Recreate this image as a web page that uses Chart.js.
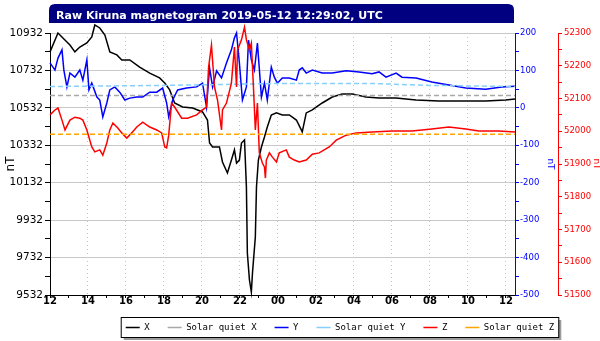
<!DOCTYPE html>
<html>
<head>
<meta charset="utf-8">
<script src="https://cdn.jsdelivr.net/npm/chart.js@4.4.1/dist/chart.umd.min.js"></script>
<style>
  html, body { margin: 0; padding: 0; background: #fff; }
  #wrap { width: 600px; height: 341px; }
</style>
</head>
<body>
<div id="wrap"><canvas id="magnetogram"></canvas></div>
<script>
// hours after 2019-05-12 12:00 UTC
const x_times = [0, 0.42, 0.68, 1.05, 1.31, 1.57, 1.94, 2.20, 2.36, 2.62, 2.89, 3.15, 3.52, 3.78, 4.20, 4.72, 5.25, 5.77, 6.04, 6.30, 6.56, 6.98, 7.51, 8.03, 8.29, 8.40, 8.56, 8.92, 9.08, 9.34, 9.55, 9.71, 9.82, 9.97, 10.08, 10.24, 10.34, 10.39, 10.50, 10.60, 10.66, 10.81, 10.87, 10.97, 11.13, 11.29, 11.44, 11.65, 11.92, 12.23, 12.60, 12.97, 13.23, 13.28, 13.49, 13.81, 14.33, 14.86, 15.38, 15.91, 16.64, 17.32, 18.22, 19.27, 20.47, 21.89, 22.94, 23.99, 24.48];
const x_values = [10831, 10932, 10905, 10868, 10831, 10857, 10879, 10911, 10975, 10959, 10921, 10831, 10815, 10788, 10788, 10750, 10718, 10692, 10665, 10628, 10558, 10537, 10531, 10510, 10467, 10344, 10323, 10323, 10243, 10184, 10253, 10307, 10237, 10253, 10344, 10360, 10109, 9756, 9612, 9548, 9650, 9842, 10109, 10253, 10323, 10376, 10430, 10494, 10505, 10494, 10494, 10467, 10414, 10403, 10505, 10521, 10558, 10590, 10606, 10606, 10590, 10585, 10585, 10574, 10569, 10569, 10569, 10574, 10579];

const y_times = [0, 0.26, 0.42, 0.63, 0.73, 0.89, 1.05, 1.31, 1.57, 1.73, 1.94, 2.05, 2.20, 2.47, 2.62, 2.78, 2.99, 3.15, 3.41, 3.67, 3.94, 4.20, 4.57, 4.88, 5.25, 5.62, 5.93, 6.14, 6.25, 6.46, 6.72, 7.19, 7.72, 8.03, 8.24, 8.40, 8.56, 8.77, 9.03, 9.29, 9.55, 9.71, 9.82, 9.97, 10.13, 10.34, 10.45, 10.60, 10.76, 10.92, 11.13, 11.29, 11.44, 11.65, 11.81, 11.97, 12.23, 12.60, 12.97, 13.12, 13.28, 13.49, 13.81, 14.33, 14.86, 15.59, 16.27, 16.96, 17.32, 17.69, 18.22, 18.53, 19.27, 20.10, 21.00, 21.89, 22.94, 23.78, 24.48];
const y_values = [120, 101, 133, 155, 101, 56, 93, 82, 101, 74, 128, 48, 66, 29, 21, -24, 13, 48, 56, 42, 21, 26, 29, 29, 42, 42, 53, 13, -24, 21, 48, 53, 56, 66, 2, 107, 56, 99, 80, 120, 155, 187, 200, 120, 21, 56, 181, 128, 101, 173, 29, 66, 21, 109, 82, 66, 80, 80, 74, 101, 107, 93, 101, 93, 93, 99, 96, 91, 96, 82, 93, 82, 80, 69, 61, 53, 50, 56, 58];

const z_times = [0, 0.26, 0.42, 0.63, 0.79, 1.05, 1.31, 1.57, 1.73, 1.94, 2.20, 2.36, 2.62, 2.78, 2.99, 3.15, 3.31, 3.57, 3.78, 4.04, 4.30, 4.57, 4.88, 5.25, 5.62, 5.88, 6.04, 6.14, 6.25, 6.40, 6.56, 6.93, 7.24, 7.72, 8.03, 8.24, 8.35, 8.50, 8.66, 8.82, 9.03, 9.08, 9.29, 9.55, 9.71, 9.82, 9.87, 10.08, 10.24, 10.34, 10.50, 10.60, 10.71, 10.81, 10.92, 11.02, 11.18, 11.29, 11.34, 11.39, 11.55, 11.71, 11.92, 12.07, 12.44, 12.60, 12.86, 13.12, 13.49, 13.81, 14.17, 14.70, 15.07, 15.59, 16.12, 16.96, 18.01, 19.06, 20.10, 21.00, 21.89, 22.57, 23.62, 24.48];
const z_values = [52050, 52065, 52071, 52034, 52004, 52034, 52043, 52040, 52034, 52004, 51952, 51937, 51943, 51927, 51964, 52004, 52025, 52010, 51995, 51979, 51995, 52013, 52028, 52013, 52004, 51995, 51952, 51949, 51988, 52086, 52074, 52040, 52040, 52050, 52065, 52074, 52196, 52263, 52135, 52095, 52004, 52065, 52086, 52147, 52257, 52135, 52248, 52279, 52318, 52279, 52248, 52269, 52135, 52004, 52086, 51934, 51903, 51891, 51857, 51912, 51934, 51921, 51906, 51934, 51943, 51921, 51912, 51906, 51912, 51930, 51934, 51952, 51973, 51988, 51995, 51998, 52001, 52001, 52007, 52013, 52007, 52001, 52001, 51998];

const quiet_times = [0, 6, 12, 17, 20, 24.48];
const quiet_x = [10598, 10598, 10598, 10598, 10598, 10598];
const quiet_y = [57, 60, 65, 65, 60, 57];
const quiet_z = [51991, 51991, 51991, 51991, 51991, 51991];

const hour_labels = ["12", "14", "16", "18", "20", "22", "00", "02", "04", "06", "08", "10", "12"];
const x_axis_ticks = [9532, 9732, 9932, 10132, 10332, 10532, 10732, 10932];
const y_axis_ticks = [-500, -400, -300, -200, -100, 0, 100, 200];
const z_axis_ticks = [51500, 51600, 51700, 51800, 51900, 52000, 52100, 52200, 52300];

function toPoints(times, values) {
    return times.map((t, i) => ({ x: t, y: values[i] }));
}

// labelled ticks plus one unlabelled tick half way between each pair
function withMinor(list) {
    const out = [];
    list.forEach((v, i) => {
        out.push({ value: v });
        if (i < list.length - 1) out.push({ value: (v + list[i + 1]) / 2 });
    });
    return out;
}

function lineSet(label, points, color, axis, dashed) {
    return {
        label: label,
        data: points,
        yAxisID: axis,
        borderColor: color,
        backgroundColor: color,
        borderWidth: 1.5,
        borderDash: dashed ? [5, 3] : [],
        pointRadius: 0,
        tension: 0,
        clip: 12
    };
}

const frame = {
    id: "frame",
    afterLayout(chart) {
        chart.titleBlock.left = chart.chartArea.left + 6;
        chart.legend.left += 40;
        chart.legend.right += 40;
    },
    beforeDraw(chart) {
        const ctx = chart.ctx;
        const a = chart.chartArea;
        ctx.save();
        // navy title bar with rounded top corners
        const x0 = a.left - 1, x1 = a.right - 1, y0 = 4, y1 = 23, r = 6;
        ctx.fillStyle = "#000080";
        ctx.beginPath();
        ctx.moveTo(x0, y1);
        ctx.lineTo(x0, y0 + r);
        ctx.quadraticCurveTo(x0, y0, x0 + r, y0);
        ctx.lineTo(x1 - r, y0);
        ctx.quadraticCurveTo(x1, y0, x1, y0 + r);
        ctx.lineTo(x1, y1);
        ctx.closePath();
        ctx.fill();
        // legend frame with shadow
        const hb = chart.legend.legendHitBoxes;
        if (hb && hb.length) {
            const first = hb[0], last = hb[hb.length - 1];
            const bx = first.left - 5, bw = last.left + last.width + 4 - bx;
            const by = first.top - 6, bh = first.height + 11;
            ctx.fillStyle = "#9c9c9c";
            ctx.fillRect(bx + 3, by + 3, bw, bh);
            ctx.fillStyle = "#fff";
            ctx.fillRect(bx, by, bw, bh);
            ctx.strokeStyle = "#000";
            ctx.lineWidth = 1;
            ctx.strokeRect(bx + 0.5, by + 0.5, bw, bh);
        }
        ctx.restore();
    }
};

const ctx = document.getElementById("magnetogram").getContext("2d");

const graph = new Chart(ctx, {
    type: "line",
    data: {
        datasets: [
            lineSet("X", toPoints(x_times, x_values), "#000000", "yX", false),
            lineSet("Solar quiet X", toPoints(quiet_times, quiet_x), "#a8a8a8", "yX", true),
            lineSet("Y", toPoints(y_times, y_values), "#0000ff", "yY", false),
            lineSet("Solar quiet Y", toPoints(quiet_times, quiet_y), "#87cefa", "yY", true),
            lineSet("Z", toPoints(z_times, z_values), "#ff0000", "yZ", false),
            lineSet("Solar quiet Z", toPoints(quiet_times, quiet_z), "#ffa500", "yZ", true)
        ].map((d, i) => Object.assign(d, { order: 5 - i }))
    },
    options: {
        responsive: true,
        maintainAspectRatio: false,
        animation: false,
        layout: { padding: { top: 4, left: 0, right: 0, bottom: 0 } },
        plugins: {
            tooltip: { enabled: false },
            title: {
                display: true,
                text: "Raw Kiruna magnetogram 2019-05-12 12:29:02, UTC",
                color: "#ffffff",
                align: "start",
                font: { family: "DejaVu Sans", size: 11, weight: "bold", lineHeight: 1 },
                padding: { top: 6.5, bottom: 11.5 }
            },
            legend: {
                position: "bottom",
                maxHeight: 36,
                labels: {
                    usePointStyle: true,
                    pointStyle: "line",
                    pointStyleWidth: 14,
                    padding: 18,
                    color: "#000",
                    font: { family: "DejaVu Sans Mono", size: 9 },
                    sort: (a, b) => a.datasetIndex - b.datasetIndex
                }
            }
        },
        scales: {
            x: {
                type: "linear",
                position: "bottom",
                min: 0,
                max: 24.48,
                afterBuildTicks: s => { s.ticks = hour_labels.flatMap((l, i) => i < hour_labels.length - 1 ? [{ value: 2 * i }, { value: 2 * i + 1 }] : [{ value: 2 * i }]); },
                afterFit: s => { s.height = 10; },
                ticks: {
                    autoSkip: false,
                    maxRotation: 0,
                    padding: -3,
                    color: "#000",
                    font: { family: "DejaVu Sans", size: 10, weight: "bold" },
                    callback: v => v % 2 === 0 ? hour_labels[v / 2] : ""
                },
                grid: {
                    color: c => c.tick && c.tick.value % 2 === 0 ? "#c4c4c4" : "transparent",
                    tickColor: "#000",
                    tickLength: 3
                },
                border: { color: "#000", width: 1, dash: [1, 3] }
            },
            yX: {
                position: "left",
                min: 9532,
                max: 10932,
                afterBuildTicks: s => { s.ticks = withMinor(x_axis_ticks); },
                afterFit: s => { s.width = 50; },
                ticks: {
                    padding: 2,
                    color: "#000",
                    font: { family: "DejaVu Sans", size: 10.5 },
                    callback: v => x_axis_ticks.includes(v) ? String(v) : ""
                },
                grid: {
                    color: c => c.tick && x_axis_ticks.includes(c.tick.value) ? "#c8c8c8" : "transparent",
                    tickColor: "#000",
                    tickLength: 5
                },
                border: { color: "#000", width: 1 },
                title: { display: true, text: "nT", color: "#000", font: { family: "DejaVu Sans", size: 12 } }
            },
            yY: {
                position: "right",
                min: -500,
                max: 200,
                afterBuildTicks: s => { s.ticks = withMinor(y_axis_ticks); },
                afterFit: s => { s.width = 43; },
                ticks: {
                    padding: 1,
                    color: "#0000ff",
                    font: { family: "DejaVu Sans", size: 8.5 },
                    callback: v => y_axis_ticks.includes(v) ? String(v) : ""
                },
                grid: { drawOnChartArea: false, color: "#0000ff", tickColor: "#0000ff", tickLength: 4 },
                border: { color: "#0000ff", width: 1 },
                title: { display: true, text: "nT", color: "#0000ff", padding: { top: 2, bottom: 2 }, font: { family: "DejaVu Sans", size: 9 } }
            },
            yZ: {
                position: "right",
                min: 51500,
                max: 52300,
                afterBuildTicks: s => { s.ticks = withMinor(z_axis_ticks); },
                afterFit: s => { s.width = 42; },
                ticks: {
                    padding: 2,
                    color: "#ff0000",
                    font: { family: "DejaVu Sans", size: 8.5 },
                    callback: v => z_axis_ticks.includes(v) ? String(v) : ""
                },
                grid: { drawOnChartArea: false, color: "#ff0000", tickColor: "#ff0000", tickLength: 4 },
                border: { color: "#ff0000", width: 1 },
                title: { display: true, text: "nT", color: "#ff0000", padding: { top: -2, bottom: 0 }, font: { family: "DejaVu Sans", size: 9 } }
            }
        }
    },
    plugins: [frame]
});
</script>
</body>
</html>
